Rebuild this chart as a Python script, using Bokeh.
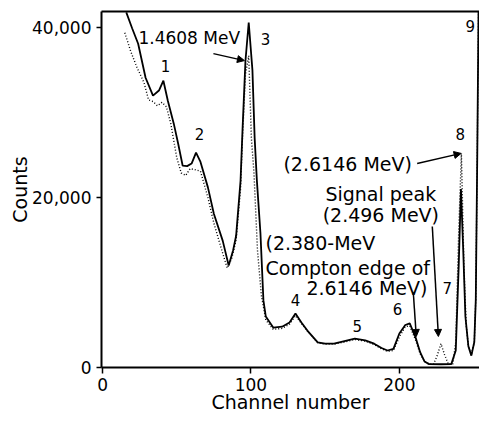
from bokeh.plotting import figure
from bokeh.models import (Arrow, NormalHead, LinearAxis, NumeralTickFormatter,
                          FixedTicker, Range1d, ColumnDataSource, Label)
from bokeh.embed import file_html
from bokeh.resources import INLINE

# ---- data ----
channel_measured = [16, 20, 24, 29, 34, 38, 41, 44, 48, 51,
                    54, 57, 60, 63, 66, 71, 75, 81, 85, 88,
                    90, 93, 94.3, 96.3, 98.5, 101, 102.5, 104, 106.4, 108.4,
                    110, 115, 121, 126, 130, 134, 138, 145, 150, 156,
                    163, 170, 177, 183, 188, 192, 196, 200, 204, 207,
                    211, 214, 217, 220, 228, 235, 238, 240, 241.5, 243,
                    244.5, 246.5, 248.5, 250.5, 251.5, 252.5, 253.5]
counts_measured = [41800, 39900, 38100, 34100, 32000, 32600, 33750, 31400, 28700, 26300,
                   23750, 23700, 24000, 25300, 24200, 21200, 18100, 14900, 12000, 13800,
                   15500, 22000, 27900, 36100, 40600, 35000, 27000, 22000, 15800, 7900,
                   6000, 4700, 4800, 5300, 6350, 5300, 4350, 2950, 2800, 2800,
                   3100, 3400, 3200, 2800, 2300, 2000, 2200, 4000, 5000, 5200,
                   3500, 1800, 700, 400, 380, 400, 2000, 12000, 21000, 14000,
                   6000, 2500, 1400, 3000, 8000, 25000, 45000]

channel_dotted = [15, 19, 23, 28, 31, 34, 37, 40, 43, 46,
                  50, 53, 56, 59, 62, 66, 71, 75, 80, 84,
                  87, 90, 93, 94.3, 96.3, 98.5, 100.3, 102, 104.4, 107,
                  110, 115, 121, 126, 130, 134, 138, 145, 150, 156,
                  163, 170, 177, 183, 188, 192, 196, 200, 204, 207,
                  211, 214, 217, 220, 223, 225.5, 228, 230.5, 233, 236,
                  238, 240, 241.8, 243.5, 245, 246.5, 248.5, 250.5, 251.5, 252.5, 253.5]
counts_dotted = [39400, 37200, 35400, 33500, 31500, 31300, 30800, 31200, 30700, 28700,
                 24700, 22900, 22600, 23400, 23300, 23100, 20000, 17000, 14000, 11700,
                 12800, 15000, 21000, 27000, 34500, 36700, 27000, 23000, 13800, 8500,
                 5600, 4500, 4600, 5100, 6100, 5200, 4300, 2900, 2750, 2750,
                 3000, 3300, 3100, 2700, 2200, 1900, 2000, 3600, 4800, 4900,
                 3200, 1600, 700, 400, 400, 1400, 2800, 1500, 400, 400,
                 3000, 16000, 25200, 12000, 5000, 2500, 1500, 3000, 8000, 25000, 45000]

x_ticks = [0, 100, 200]
y_ticks = [0, 20000, 40000]

FONT = "DejaVu Sans"

p = figure(width=479, height=421, output_backend="svg", toolbar_location=None,
           x_range=Range1d(-0.7, 254), y_range=Range1d(0, 41900),
           min_border_left=101, min_border_right=0, min_border_top=11,
           min_border_bottom=54)
p.outline_line_color = None
p.grid.grid_line_color = None
p.background_fill_color = "white"
p.border_fill_color = "white"

# axes
p.xaxis.ticker = FixedTicker(ticks=x_ticks)
p.yaxis.ticker = FixedTicker(ticks=y_ticks)
p.yaxis.formatter = NumeralTickFormatter(format="0,0")
for ax in (p.xaxis[0], p.yaxis[0]):
    ax.axis_line_width = 2
    ax.axis_line_color = "black"
    ax.major_tick_line_color = "black"
    ax.major_tick_line_width = 1.5
    ax.minor_tick_line_color = None
    ax.major_tick_in = 0
    ax.major_label_text_font = FONT
    ax.major_label_text_font_size = "17px"
    ax.major_label_text_color = "black"
    ax.axis_label_text_font = FONT
    ax.axis_label_text_font_size = "19px"
    ax.axis_label_text_font_style = "normal"
    ax.axis_label_text_color = "black"
p.xaxis.major_tick_out = 6
p.yaxis.major_tick_out = 5
p.xaxis.major_label_standoff = 4
p.yaxis.major_label_standoff = 5
p.xaxis.axis_label = "Channel number"
p.yaxis.axis_label = "Counts"
p.xaxis.axis_label_standoff = -3
p.yaxis.axis_label_standoff = -2

top = LinearAxis(ticker=FixedTicker(ticks=[]), axis_line_width=2, axis_line_color="black",
                 major_tick_line_color=None, minor_tick_line_color=None,
                 major_label_text_font_size="0px", major_label_standoff=0,
                 major_tick_out=0, major_tick_in=0)
p.add_layout(top, "above")

src_m = ColumnDataSource(dict(x=channel_measured, y=counts_measured))
src_d = ColumnDataSource(dict(x=channel_dotted, y=counts_dotted))
p.line("x", "y", source=src_d, line_color="black", line_width=1.4, line_dash="1 2")
p.line("x", "y", source=src_m, line_color="black", line_width=1.8)

# annotations
def lab(x, y, t, size="19px", align="center"):
    p.add_layout(Label(x=x, y=y, text=t, text_font=FONT, text_font_size=size,
                       text_align=align, text_baseline="middle", text_color="black"))

lab(24.2, 38800, "1.4608 MeV", "17px", "left")
lab(42.4, 35500, "1", "15px")
lab(65.3, 27500, "2", "15px")
lab(109.8, 38700, "3", "15px")
lab(130, 7900, "4", "15px")
lab(171.7, 4940, "5", "15px")
lab(198.7, 6940, "6", "15px")
lab(232.3, 9300, "7", "15px")
lab(241, 27500, "8", "15px")
lab(247.8, 40200, "9", "15px")
lab(121.9, 24000, "(2.6146 MeV)", "19px", "left")
lab(187.5, 20470, "Signal peak", "19px")
lab(187.5, 18000, "(2.496 MeV)", "19px")
lab(109.8, 14600, "(2.380-MeV", "19px", "left")
lab(109.8, 11760, "Compton edge of", "19px", "left")
lab(218.9, 9300, "2.6146 MeV)", "19px", "right")

def arrow(x0, y0, x1, y1):
    p.add_layout(Arrow(end=NormalHead(size=7, fill_color="black", line_color="black"),
                       x_start=x0, y_start=y0, x_end=x1, y_end=y1,
                       line_color="black", line_width=1.5))

arrow(74.7, 36940, 95.6, 36120)
arrow(212, 24000, 241.6, 25200)
arrow(222.2, 16600, 226.3, 3650)
arrow(209.4, 8800, 211.4, 3650)

open("out.html", "w").write(file_html(p, INLINE))
